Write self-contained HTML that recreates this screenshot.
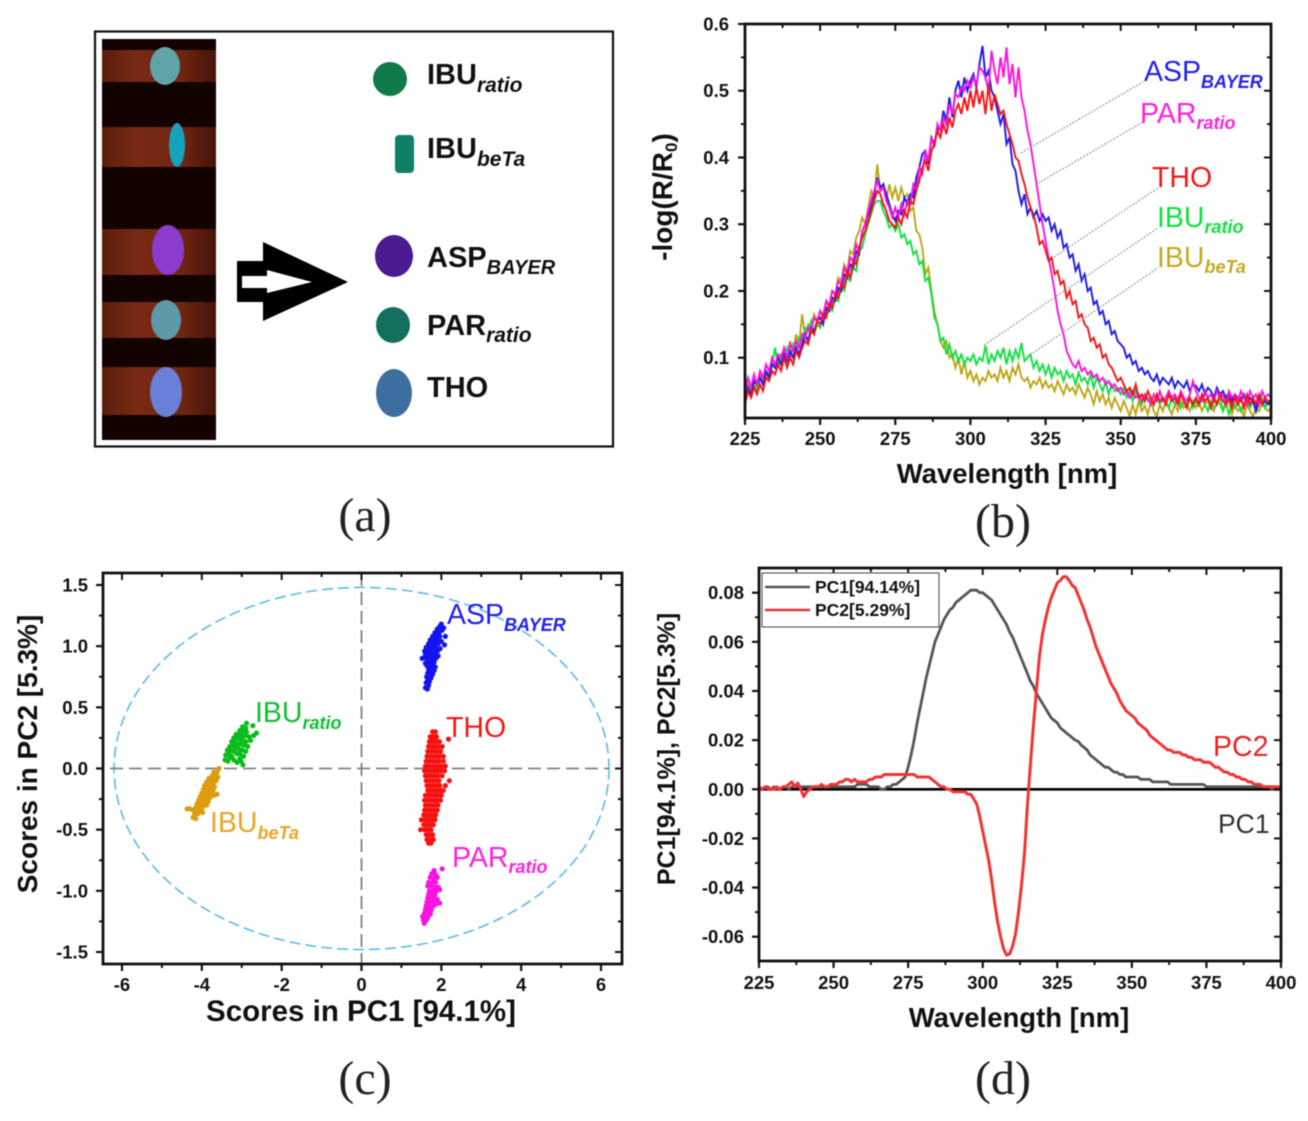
<!DOCTYPE html>
<html lang="en">
<head>
<meta charset="utf-8">
<title>Spectral imaging figure panels a-d</title>
<style>
html,body{margin:0;padding:0;background:#fff;}
svg{display:block;font-family:"Liberation Sans",sans-serif;filter:blur(0.4px);}
.serif{font-family:"Liberation Serif",serif;font-size:48px;fill:#222;text-anchor:middle;}
.al{font-size:29px;font-weight:bold;fill:#111;}
.al tspan{font-size:21px;font-style:italic;}
.cl{font-size:28.5px;}
.cl tspan{font-size:18px;font-style:italic;font-weight:bold;}
.title{font-weight:bold;fill:#111;text-anchor:middle;}
.tick{font-weight:bold;font-size:18.5px;fill:#111;}
</style>
</head>
<body>
<svg id="figure" width="1308" height="1121" viewBox="0 0 1308 1121" xmlns="http://www.w3.org/2000/svg">
<defs>
<linearGradient id="bandGrad" x1="0" x2="1" y1="0" y2="0">
<stop offset="0" stop-color="#5a1e0c"/><stop offset=".3" stop-color="#7a2a14"/><stop offset=".7" stop-color="#702512"/><stop offset="1" stop-color="#451407"/>
</linearGradient>
</defs>
<rect width="1308" height="1121" fill="#fff"/>

<g>
<rect x="95" y="31.5" width="518" height="415" fill="#fff" stroke="#111" stroke-width="2.2"/>
<g>
<rect x="102" y="39" width="114" height="401" fill="#120200"/>
<rect x="102" y="50" width="114" height="32" fill="url(#bandGrad)"/>
<rect x="102" y="127" width="114" height="40" fill="url(#bandGrad)"/>
<rect x="102" y="229" width="114" height="46" fill="url(#bandGrad)"/>
<rect x="102" y="302" width="114" height="36" fill="url(#bandGrad)"/>
<rect x="102" y="367" width="114" height="48" fill="url(#bandGrad)"/>
<ellipse cx="165" cy="66" rx="15" ry="19" fill="#5fa5a8"/>
<ellipse cx="177" cy="145" rx="8" ry="22" fill="#16a2ba"/>
<ellipse cx="168" cy="250" rx="16" ry="25" fill="#8a3ccc"/>
<ellipse cx="166" cy="320" rx="15" ry="20" fill="#5f96a8"/>
<ellipse cx="166" cy="392" rx="16" ry="25" fill="#6a80d8"/>
</g>
<polygon points="237,261 263,261 263,242 348,282 263,321 263,302 237,302" fill="#000"/>
<polygon points="242,276 267,276 267,270 312,282 267,293 267,288 242,288" fill="#fff"/>
<ellipse cx="390" cy="79" rx="17" ry="17" fill="#117a4a"/>
<rect x="395" y="135" width="19" height="38" rx="4" fill="#0f8068"/>
<ellipse cx="394" cy="256" rx="19" ry="21" fill="#4a1a8e"/>
<ellipse cx="393" cy="325" rx="17" ry="18" fill="#14705e"/>
<ellipse cx="394" cy="393" rx="18" ry="24" fill="#3e6ea0"/>
<text class="al" x="427" y="84">IBU<tspan dy="8">ratio</tspan></text>
<text class="al" x="427" y="158">IBU<tspan dy="8">beTa</tspan></text>
<text class="al" x="427" y="267">ASP<tspan dy="7" style="font-size:20px">BAYER</tspan></text>
<text class="al" x="427" y="335">PAR<tspan dy="7">ratio</tspan></text>
<text class="al" x="427" y="397">THO</text>
</g>
<text class="serif" x="365" y="531">(a)</text>

<g id="chart-b"></g>
<g>
<line x1="1021" y1="153" x2="1143" y2="82" stroke="#999" stroke-width="1.2" stroke-dasharray="2 1.5"/>
<line x1="1035" y1="185" x2="1143" y2="122" stroke="#999" stroke-width="1.2" stroke-dasharray="2 1.5"/>
<line x1="1054" y1="257" x2="1158" y2="188" stroke="#999" stroke-width="1.2" stroke-dasharray="2 1.5"/>
<line x1="984" y1="345" x2="1158" y2="228" stroke="#999" stroke-width="1.2" stroke-dasharray="2 1.5"/>
<line x1="1027" y1="357" x2="1158" y2="268" stroke="#999" stroke-width="1.2" stroke-dasharray="2 1.5"/>
<text class="cl" x="1144" y="81" fill="#2222ee">ASP<tspan dy="7" style="font-size:18px;font-weight:bold">BAYER</tspan></text>
<text class="cl" x="1140" y="123" fill="#ff22dd">PAR<tspan dy="6">ratio</tspan></text>
<text class="cl" x="1152" y="187" fill="#f01818">THO</text>
<text class="cl" x="1157" y="227" fill="#10e040">IBU<tspan dy="6">ratio</tspan></text>
<text class="cl" x="1157" y="267" fill="#c4aa20">IBU<tspan dy="6">beTa</tspan></text>
<text class="title" x="1007" y="483" font-size="27.5">Wavelength [nm]</text>
<text class="title" font-size="28" transform="translate(672,197) rotate(-90)">-log(R/R<tspan dy="5" font-size="17">0</tspan><tspan dy="-5">)</tspan></text>
</g>
<text class="serif" x="1003" y="537">(b)</text>

<g id="chart-c"></g>
<g>
<text class="cl" x="447" y="624" fill="#2222ee">ASP<tspan dy="7" style="font-size:18px;font-weight:bold">BAYER</tspan></text>
<text class="cl" x="255" y="722" fill="#10c030">IBU<tspan dy="7">ratio</tspan></text>
<text class="cl" x="446" y="737" fill="#f01818">THO</text>
<text class="cl" x="210" y="832" fill="#e8a525">IBU<tspan dy="7">beTa</tspan></text>
<text class="cl" x="452" y="867" fill="#ff22dd">PAR<tspan dy="6">ratio</tspan></text>
<text class="title" x="361" y="1021" font-size="29.5">Scores in PC1 [94.1%]</text>
<text class="title" font-size="28" transform="translate(37,754) rotate(-90)">Scores in PC2 [5.3%]</text>
</g>
<text class="serif" x="365" y="1094">(c)</text>

<g id="chart-d"></g>
<g>
<g>
<rect x="762" y="573" width="177" height="54" fill="#fff" stroke="#444" stroke-width="1"/>
<line x1="765" y1="587" x2="810" y2="587" stroke="#555" stroke-width="2.6"/>
<line x1="765" y1="610" x2="810" y2="610" stroke="#f03030" stroke-width="2.6"/>
<text x="815" y="593" font-size="17.5" font-weight="bold" fill="#111">PC1[94.14%]</text>
<text x="815" y="616" font-size="17.5" font-weight="bold" fill="#111">PC2[5.29%]</text>
</g>
<text class="cl" x="1213" y="756" fill="#f02020">PC2</text>
<text class="cl" x="1218" y="833" font-size="27" style="font-size:26.5px" fill="#333">PC1</text>
<text class="title" x="1019" y="1027" font-size="27.5">Wavelength [nm]</text>
<text class="title" font-size="25" transform="translate(675,749) rotate(-90)">PC1[94.1%], PC2[5.3%]</text>
</g>
<text class="serif" x="1003" y="1094">(d)</text>
</svg>

<script>
/* shared wavelength categories */
const wavelengths = [225,226,227,228,229,230,231,232,233,234,235,236,237,238,239,240,241,242,243,244,245,246,247,248,249,
250,251,252,253,254,255,256,257,258,259,260,261,262,263,264,265,266,267,268,269,270,271,272,273,274,
275,276,277,278,279,280,281,282,283,284,285,286,287,288,289,290,291,292,293,294,295,296,297,298,299,
300,301,302,303,304,305,306,307,308,309,310,311,312,313,314,315,316,317,318,319,320,321,322,323,324,
325,326,327,328,329,330,331,332,333,334,335,336,337,338,339,340,341,342,343,344,345,346,347,348,349,
350,351,352,353,354,355,356,357,358,359,360,361,362,363,364,365,366,367,368,369,370,371,372,373,374,
375,376,377,378,379,380,381,382,383,384,385,386,387,388,389,390,391,392,393,394,395,396,397,398,399,400];

/* panel b: -log(R/R0) spectra */
const ibuBetaSpectrum = [.04,.06,.05,.065,.055,.075,.065,.08,.075,.095,.085,.1,.095,.115,.1,.125,.11,.135,.12,.165,.13,.15,.145,.165,.155,
.17,.165,.185,.18,.2,.195,.22,.215,.24,.23,.26,.255,.28,.29,.31,.3,.325,.35,.34,.39,.35,.36,.335,.36,.34,
.355,.335,.355,.34,.345,.32,.325,.29,.285,.265,.225,.235,.2,.17,.15,.125,.115,.125,.1,.105,.085,.1,.075,.095,.07,
.08,.065,.075,.06,.07,.065,.08,.07,.075,.065,.085,.07,.08,.065,.085,.075,.09,.07,.065,.07,.055,.065,.06,.07,.055,
.065,.055,.06,.05,.065,.055,.045,.06,.05,.055,.045,.06,.05,.04,.055,.045,.03,.05,.035,.045,.03,.04,.025,.04,.03,
.02,.035,.025,.012,.03,.015,.035,.02,.028,.015,.035,.02,.012,.03,.02,.035,.025,.015,.03,.02,.035,.025,.03,.02,.035,
.025,.035,.02,.03,.035,.025,.02,.035,.03,.02,.03,.035,.015,.03,.02,.025,.012,.03,.02,.012,.025,.02,.03,.025,.02,.025];
const ibuRatioSpectrum = [.04,.055,.045,.06,.05,.07,.06,.075,.07,.09,.115,.085,.105,.1,.115,.1,.12,.11,.13,.125,.145,.14,.155,.135,.15,
.145,.165,.16,.175,.17,.19,.185,.205,.2,.22,.215,.235,.23,.26,.265,.285,.3,.315,.33,.335,.335,.32,.31,.295,.3,
.29,.3,.28,.285,.27,.275,.255,.26,.24,.245,.215,.22,.195,.16,.15,.125,.13,.105,.12,.1,.11,.095,.105,.09,.1,
.095,.105,.09,.1,.095,.118,.09,.105,.095,.11,.1,.115,.09,.11,.095,.112,.1,.122,.095,.1,.105,.085,.095,.08,.09,
.075,.088,.07,.085,.075,.08,.065,.08,.07,.075,.06,.078,.065,.07,.06,.075,.055,.07,.06,.05,.065,.045,.06,.05,.055,
.045,.055,.04,.05,.035,.05,.04,.03,.045,.035,.04,.03,.045,.03,.04,.035,.025,.04,.03,.04,.025,.035,.03,.04,.025,
.035,.028,.04,.03,.02,.035,.025,.03,.04,.02,.035,.015,.03,.025,.035,.02,.03,.04,.025,.035,.02,.03,.04,.025,.035,.03];
const aspBayerSpectrum = [.03,.055,.045,.065,.06,.07,.06,.08,.07,.09,.085,.1,.09,.105,.095,.11,.1,.115,.105,.12,.135,.125,.145,.14,.155,
.16,.15,.175,.17,.19,.185,.205,.2,.225,.22,.24,.235,.26,.255,.29,.3,.305,.33,.345,.37,.355,.36,.345,.33,.315,
.305,.32,.315,.34,.33,.345,.34,.37,.385,.405,.41,.39,.43,.42,.445,.44,.47,.455,.49,.46,.5,.515,.49,.52,.5,
.515,.525,.505,.54,.567,.52,.53,.5,.49,.47,.45,.465,.42,.43,.39,.38,.35,.33,.345,.315,.325,.31,.32,.305,.315,
.305,.31,.29,.3,.28,.29,.265,.27,.25,.255,.23,.24,.215,.225,.2,.205,.18,.185,.165,.17,.15,.155,.135,.14,.125,
.12,.115,.1,.105,.09,.095,.08,.085,.075,.08,.07,.065,.075,.06,.07,.065,.06,.07,.055,.065,.06,.055,.065,.05,.06,
.058,.05,.06,.045,.055,.05,.04,.055,.045,.05,.04,.048,.035,.045,.04,.035,.045,.03,.04,.035,.02,.04,.03,.035,.03,.035];
const parRatioSpectrum = [.05,.07,.055,.075,.06,.08,.07,.09,.08,.1,.09,.105,.1,.115,.1,.12,.11,.125,.115,.135,.13,.145,.14,.16,.155,
.17,.16,.185,.175,.2,.195,.215,.21,.235,.225,.25,.245,.27,.26,.29,.3,.32,.335,.35,.365,.35,.355,.335,.325,.31,
.325,.31,.33,.315,.335,.33,.36,.35,.385,.375,.41,.395,.43,.415,.45,.44,.46,.45,.48,.465,.495,.49,.505,.5,.515,
.505,.52,.51,.535,.53,.52,.5,.56,.53,.51,.55,.52,.565,.51,.54,.49,.535,.49,.47,.44,.42,.39,.36,.33,.3,
.275,.25,.225,.2,.17,.15,.135,.11,.1,.09,.085,.095,.08,.085,.075,.08,.07,.075,.065,.07,.06,.065,.055,.06,.05,
.055,.045,.05,.04,.05,.04,.045,.035,.045,.04,.03,.045,.035,.05,.035,.04,.05,.04,.045,.035,.05,.04,.035,.045,.065,
.05,.04,.035,.05,.04,.045,.035,.05,.04,.045,.03,.05,.04,.045,.035,.05,.04,.03,.05,.04,.045,.03,.05,.04,.045,.04];
const thoSpectrum = [.03,.05,.04,.055,.045,.06,.05,.07,.065,.08,.075,.09,.08,.1,.085,.1,.09,.11,.1,.115,.125,.12,.14,.135,.155,
.15,.165,.16,.18,.175,.195,.19,.21,.205,.23,.22,.245,.24,.265,.28,.29,.305,.32,.335,.35,.345,.33,.32,.305,.3,
.295,.31,.3,.32,.31,.335,.33,.35,.365,.385,.395,.38,.41,.42,.44,.43,.45,.435,.46,.445,.47,.48,.465,.49,.47,
.5,.475,.505,.48,.5,.465,.51,.47,.495,.48,.465,.47,.45,.435,.42,.4,.395,.375,.36,.34,.325,.315,.295,.27,.275,
.26,.245,.25,.225,.23,.21,.215,.19,.2,.18,.185,.16,.165,.15,.145,.125,.13,.115,.12,.1,.105,.09,.085,.075,.065,
.07,.06,.05,.055,.045,.06,.04,.045,.035,.05,.04,.03,.045,.035,.04,.03,.045,.035,.04,.03,.045,.035,.025,.04,.03,
.04,.03,.045,.035,.04,.025,.04,.03,.045,.035,.03,.04,.025,.04,.03,.04,.025,.045,.03,.04,.03,.045,.03,.04,.035,.035];
const spectrumXTicks = [225,250,275,300,325,350,375,400];
const spectrumXMinor = [237.5,262.5,287.5,312.5,337.5,362.5,387.5];
const spectrumYTicks = [0.1,0.2,0.3,0.4,0.5,0.6];
const spectrumYLabels = ["0.1","0.2","0.3","0.4","0.5","0.6"];
const spectrumYMinor = [0.15,0.25,0.35,0.45,0.55];

/* panel c: PCA scores, [PC1, PC2] */
const aspScores = [[1.6,.66],[1.65,.65],[1.68,.68],[1.62,.7],[1.66,.72],[1.7,.71],[1.63,.75],[1.7,.75],[1.74,.74],[1.66,.78],[1.72,.78],[1.78,.77],[1.68,.81],[1.75,.81],[1.82,.8],[1.64,.84],[1.7,.84],[1.78,.84],[1.85,.83],[1.6,.86],[1.68,.87],[1.75,.87],[1.82,.87],[1.52,.9],[1.62,.9],[1.7,.9],[1.78,.9],[1.86,.9],[1.6,.93],[1.68,.93],[1.75,.93],[1.84,.93],[1.92,.92],[1.58,.96],[1.66,.96],[1.74,.96],[1.82,.96],[1.9,.96],[1.62,.99],[1.7,.99],[1.78,.99],[1.86,.99],[1.97,.98],[1.68,1.02],[1.76,1.02],[1.84,1.02],[1.92,1.02],[2.08,1.01],[1.72,1.05],[1.8,1.05],[1.9,1.05],[2,1.04],[1.78,1.08],[1.88,1.08],[1.96,1.08],[1.84,1.11],[1.94,1.11],[2.1,1.08],[1.9,1.14],[2.02,1.13],[1.96,1.16],[2.06,1.15],[2,1.18]];
const thoScores = [[1.78,.3],[1.85,.3],[1.72,.26],[1.8,.26],[1.88,.26],[1.75,.24],[1.85,.24],[2.18,.24],[1.7,.22],[1.78,.22],[1.86,.22],[1.95,.22],[1.68,.18],[1.76,.18],[1.84,.18],[1.92,.18],[2.02,.18],[1.66,.14],[1.74,.14],[1.82,.14],[1.9,.14],[1.98,.14],[1.64,.1],[1.72,.1],[1.8,.1],[1.88,.1],[1.96,.1],[2.05,.1],[1.62,.06],[1.7,.06],[1.78,.06],[1.86,.06],[1.94,.06],[2.05,.06],[1.6,.02],[1.68,.02],[1.76,.02],[1.84,.02],[1.92,.02],[2,.02],[2.1,.02],[1.58,-.02],[1.66,-.02],[1.74,-.02],[1.82,-.02],[1.9,-.02],[1.98,-.02],[2.08,-.02],[1.6,-.06],[1.68,-.06],[1.76,-.06],[1.84,-.06],[1.92,-.06],[2.02,-.06],[1.62,-.1],[1.7,-.1],[1.78,-.1],[1.86,-.1],[1.94,-.1],[2.2,-.1],[1.64,-.14],[1.72,-.14],[1.8,-.14],[1.88,-.14],[1.96,-.14],[2.1,-.14],[1.66,-.18],[1.74,-.18],[1.82,-.18],[1.9,-.18],[1.98,-.18],[2.05,-.18],[1.6,-.22],[1.68,-.22],[1.76,-.22],[1.84,-.22],[1.92,-.22],[2,-.22],[1.58,-.26],[1.66,-.26],[1.74,-.26],[1.82,-.26],[1.9,-.26],[1.98,-.26],[1.6,-.3],[1.68,-.3],[1.76,-.3],[1.84,-.3],[1.92,-.3],[1.58,-.34],[1.66,-.34],[1.74,-.34],[1.82,-.34],[1.9,-.34],[1.56,-.38],[1.64,-.38],[1.72,-.38],[1.8,-.38],[1.86,-.38],[1.5,-.42],[1.6,-.42],[1.68,-.42],[1.76,-.42],[1.84,-.42],[1.56,-.46],[1.64,-.46],[1.72,-.46],[1.8,-.46],[1.48,-.5],[1.58,-.5],[1.66,-.5],[1.74,-.5],[1.62,-.54],[1.7,-.54],[1.78,-.54],[1.64,-.58],[1.72,-.58],[1.8,-.58],[1.68,-.61],[1.74,-.61]];
const parScores = [[1.82,-.835],[2.02,-.82],[1.76,-.86],[1.86,-.87],[1.72,-.89],[1.82,-.9],[1.9,-.89],[1.68,-.93],[1.78,-.93],[1.86,-.93],[1.66,-.96],[1.74,-.96],[1.84,-.97],[1.92,-.97],[1.7,-1],[1.78,-1],[1.88,-1],[1.96,-.99],[1.68,-1.03],[1.76,-1.03],[1.84,-1.03],[1.66,-1.06],[1.74,-1.06],[1.82,-1.06],[1.9,-1.07],[1.96,-1.1],[1.64,-1.09],[1.72,-1.09],[1.8,-1.09],[1.86,-1.11],[1.62,-1.12],[1.7,-1.12],[1.78,-1.13],[1.6,-1.15],[1.68,-1.15],[1.74,-1.16],[1.58,-1.18],[1.65,-1.18],[1.72,-1.19],[1.53,-1.21],[1.6,-1.21],[1.66,-1.22],[1.55,-1.24],[1.62,-1.24],[1.57,-1.265]];
const ibuRatioScores = [[-3.42,.07],[-3.35,.06],[-3.3,.09],[-3.4,.11],[-3.32,.13],[-3.25,.1],[-3.2,.07],[-3.12,.05],[-3.05,.08],[-2.97,.03],[-3.02,.06],[-3.36,.15],[-3.28,.16],[-3.2,.14],[-3.12,.12],[-3.05,.12],[-2.95,.1],[-3.3,.18],[-3.22,.19],[-3.15,.17],[-3.08,.16],[-3,.15],[-2.9,.14],[-3.25,.22],[-3.18,.22],[-3.1,.2],[-3.02,.2],[-2.95,.19],[-2.85,.18],[-3.2,.25],[-3.12,.25],[-3.05,.24],[-2.98,.24],[-2.9,.22],[-2.78,.23],[-3.14,.28],[-3.06,.28],[-3,.27],[-2.92,.27],[-2.82,.26],[-2.7,.27],[-2.63,.29],[-3.05,.31],[-2.96,.31],[-2.88,.3],[-2.98,.34],[-2.9,.33],[-2.88,.37],[-2.72,.35]];
const ibuBetaScores = [[-3.57,0],[-3.62,-.03],[-3.7,-.03],[-3.66,-.06],[-3.74,-.06],[-3.6,-.07],[-3.82,-.08],[-3.72,-.09],[-3.64,-.1],[-3.88,-.11],[-3.8,-.11],[-3.72,-.12],[-3.93,-.14],[-3.85,-.14],[-3.77,-.14],[-3.68,-.15],[-3.96,-.17],[-3.88,-.17],[-3.8,-.17],[-3.72,-.18],[-4,-.2],[-3.92,-.2],[-3.84,-.2],[-3.76,-.2],[-3.62,-.21],[-4.04,-.23],[-3.96,-.23],[-3.88,-.23],[-3.8,-.24],[-3.7,-.22],[-4.08,-.26],[-4,-.26],[-3.92,-.26],[-3.84,-.27],[-4.12,-.29],[-4.04,-.29],[-3.96,-.29],[-3.88,-.3],[-4.15,-.32],[-4.07,-.32],[-3.99,-.32],[-4.37,-.33],[-4.3,-.33],[-4.22,-.34],[-4.14,-.35],[-4.06,-.35],[-3.98,-.36],[-4.18,-.37],[-4.1,-.37],[-4.22,-.4],[-4.15,-.41]];
const scoreXTicks = [-6,-4,-2,0,2,4,6];
const scoreXMinor = [-5,-3,-1,1,3,5];
const scoreYTicks = [-1.5,-1,-0.5,0,0.5,1,1.5];
const scoreYLabels = ["-1.5","-1.0","-0.5","0.0","0.5","1.0","1.5"];
const scoreYMinor = [-1.25,-0.75,-0.25,0.25,0.75,1.25];
const confidenceRadii = [6.2,1.48];

/* panel d: PCA loadings */
const pc1Loading = [0,0,.001,0,0,.001,0,0,.001,.001,0,.001,.001,.001,.001,.001,.001,.001,.001,.001,.001,.001,.001,.001,.001,
.001,.001,.001,.001,.001,.001,.001,.001,.002,.002,.002,.002,.001,.001,.001,.001,0,0,.001,.001,.002,.002,.003,.004,.005,
.009,.014,.02,.027,.033,.039,.045,.05,.055,.06,.063,.066,.069,.071,.073,.074,.076,.077,.078,.079,.08,.081,.081,.081,.08,
.08,.079,.078,.077,.075,.073,.071,.069,.067,.064,.062,.059,.056,.053,.05,.047,.044,.042,.039,.037,.035,.033,.031,.029,.028,
.027,.025,.024,.023,.022,.021,.02,.0195,.018,.017,.016,.014,.013,.012,.011,.01,.009,.009,.008,.007,.007,.006,.006,.005,.005,
.005,.005,.005,.004,.004,.004,.004,.003,.003,.003,.003,.003,.003,.002,.002,.002,.002,.002,.002,.002,.002,.002,.002,.002,.002,
.001,.001,.001,.001,.001,.001,.001,.001,.001,.001,.001,.001,.001,.001,.001,.001,.001,.001,.001,.001,.001,.001,0,0,0,0];
const pc2Loading = [.001,0,.001,.001,0,0,.001,0,.001,.001,.002,.003,.001,.0025,0,-.003,-.001,0,.001,.001,.001,.002,.001,.001,.002,
.002,.002,.003,.003,.004,.004,.003,.004,.003,.003,.003,.003,.004,.004,.005,.005,.005,.006,.006,.006,.006,.006,.006,.006,.006,
.006,.006,.006,.005,.005,.005,.005,.005,.004,.003,.002,.001,.001,0,0,-.001,-.001,-.001,-.001,-.001,-.002,-.002,-.004,-.006,-.011,
-.017,-.023,-.029,-.037,-.046,-.054,-.06,-.065,-.0675,-.067,-.064,-.059,-.05,-.039,-.026,-.006,.01,.026,.04,.054,.063,.069,.074,.078,.081,
.084,.085,.0865,.0865,.085,.083,.082,.079,.076,.073,.069,.066,.062,.058,.055,.052,.049,.046,.043,.041,.039,.036,.034,.032,.031,
.03,.029,.027,.026,.025,.024,.022,.021,.02,.019,.018,.017,.016,.016,.015,.015,.015,.014,.014,.013,.013,.012,.012,.012,.011,
.011,.011,.01,.009,.009,.008,.007,.007,.006,.006,.005,.005,.004,.004,.003,.003,.002,.002,.002,.001,.001,.001,.001,.001,.001,.0005];
const loadingYTicks = [-0.06,-0.04,-0.02,0,0.02,0.04,0.06,0.08];
const loadingYLabels = ["-0.06","-0.04","-0.02","0.00","0.02","0.04","0.06","0.08"];
const loadingYMinor = [-0.05,-0.03,-0.01,0.01,0.03,0.05,0.07];

const NS = 'http://www.w3.org/2000/svg';
function mk(parent, tag, attrs, text) {
  const el = document.createElementNS(NS, tag);
  for (const k in attrs) el.setAttribute(k, attrs[k]);
  if (text !== undefined) el.textContent = text;
  parent.appendChild(el);
  return el;
}
function linear(d0, d1, r0, r1) {
  return v => r0 + (v - d0) * (r1 - r0) / (d1 - d0);
}
function drawAxes(g, box, sx, sy, xTicks, xLabels, xMinor, yTicks, yLabels, yMinor, labelGapX, labelBaseY) {
  const sw = 2.8, major = 7, minor = 4;
  for (let i = 0; i < xTicks.length; i++) {
    const x = sx(xTicks[i]);
    const t = mk(g, 'line', {x1: x, x2: x, y1: box.b, y2: box.b + major, stroke: '#111', 'stroke-width': 2.2});
    
    
    const m = mk(g, 'line', {x1: x, x2: x, y1: box.t, y2: box.t + major, stroke: '#111', 'stroke-width': 2});
    
    
    const l = mk(g, 'text', {x: x, y: labelBaseY, 'text-anchor': 'middle', class: 'tick'}, xLabels[i]);
    
    
  }
  for (const v of xMinor) {
    const x = sx(v);
    const t = mk(g, 'line', {x1: x, x2: x, y1: box.b, y2: box.b + minor, stroke: '#111', 'stroke-width': 2});
    
    
    const m = mk(g, 'line', {x1: x, x2: x, y1: box.t, y2: box.t + minor, stroke: '#111', 'stroke-width': 2});
    
    
  }
  for (let i = 0; i < yTicks.length; i++) {
    const y = sy(yTicks[i]);
    const t = mk(g, 'line', {x1: box.l - major, x2: box.l, y1: y, y2: y, stroke: '#111', 'stroke-width': 2.2});
    
    
    const m = mk(g, 'line', {x1: box.r - major, x2: box.r, y1: y, y2: y, stroke: '#111', 'stroke-width': 2});
    
    
    const l = mk(g, 'text', {x: box.l - labelGapX, y: y + 6.5, 'text-anchor': 'end', class: 'tick'}, yLabels[i]);
    
    
  }
  for (const v of yMinor) {
    const y = sy(v);
    const t = mk(g, 'line', {x1: box.l - minor, x2: box.l, y1: y, y2: y, stroke: '#111', 'stroke-width': 2});
    
    
    const m = mk(g, 'line', {x1: box.r - minor, x2: box.r, y1: y, y2: y, stroke: '#111', 'stroke-width': 2});
    
    
  }
  const f = mk(g, 'rect', {x: box.l, y: box.t, width: box.r - box.l, height: box.b - box.t, fill: 'none', stroke: '#111', 'stroke-width': sw});
  
  
}
function linePath(values, sx, sy) {
  return values.map((v, i) => (i ? 'L' : 'M') + sx(wavelengths[i]).toFixed(1) + ' ' + sy(v).toFixed(1)).join('');
}

/* ---------- panel b ---------- */
(function () {
  const g = document.getElementById('chart-b');
  const box = {l: 745, r: 1271, t: 24, b: 418};
  const sx = linear(225, 400, 745, 1271);
  const sy = linear(0.1, 0.6, 357.7, 24);
  const s1 = mk(g, 'path', {d: linePath(ibuBetaSpectrum, sx, sy), fill: 'none', stroke: '#bfa516', 'stroke-width': 1.9});
  
  
  const s2 = mk(g, 'path', {d: linePath(ibuRatioSpectrum, sx, sy), fill: 'none', stroke: '#12e040', 'stroke-width': 1.9});
  
  
  const s3 = mk(g, 'path', {d: linePath(aspBayerSpectrum, sx, sy), fill: 'none', stroke: '#1a1aee', 'stroke-width': 1.9});
  
  
  const s4 = mk(g, 'path', {d: linePath(parRatioSpectrum, sx, sy), fill: 'none', stroke: '#fa14e0', 'stroke-width': 1.9});
  
  
  const s5 = mk(g, 'path', {d: linePath(thoSpectrum, sx, sy), fill: 'none', stroke: '#f51414', 'stroke-width': 1.9});
  
  
  drawAxes(g, box, sx, sy, spectrumXTicks, spectrumXTicks.map(String), spectrumXMinor, spectrumYTicks, spectrumYLabels, spectrumYMinor, 16, 445);
})();

/* ---------- panel c ---------- */
(function () {
  const g = document.getElementById('chart-c');
  const box = {l: 103, r: 622, t: 573, b: 964};
  const sx = linear(-6, 6, 122, 601);
  const sy = linear(-1.5, 1.5, 952, 585);
  const e = mk(g, 'ellipse', {cx: sx(0), cy: sy(0), rx: sx(confidenceRadii[0]) - sx(0), ry: sy(0) - sy(confidenceRadii[1]), fill: 'none', stroke: '#5cbbe2', 'stroke-width': 1.6, 'stroke-dasharray': '11 5'});
  
  
  const h = mk(g, 'line', {x1: sx(-6.3), x2: sx(6.2), y1: sy(0), y2: sy(0), stroke: '#808080', 'stroke-width': 1.8, 'stroke-dasharray': '13 6'});
  
  
  const v = mk(g, 'line', {x1: sx(0), x2: sx(0), y1: box.t, y2: box.b, stroke: '#808080', 'stroke-width': 1.8, 'stroke-dasharray': '13 6'});
  
  
  function cluster(points, color, name) {
    const c = mk(g, 'g', {fill: color});
    
    
    for (const p of points) {
      const d = mk(c, 'circle', {cx: sx(p[0]).toFixed(1), cy: sy(p[1]).toFixed(1), r: 2.6});
      
      
    }
  }
  cluster(aspScores, '#1414f0', 'cluster-asp-bayer');
  cluster(thoScores, '#f81010', 'cluster-tho');
  cluster(parScores, '#f814e0', 'cluster-par-ratio');
  cluster(ibuRatioScores, '#0cbc1c', 'cluster-ibu-ratio');
  cluster(ibuBetaScores, '#dc9c10', 'cluster-ibu-beta');
  drawAxes(g, box, sx, sy, scoreXTicks, scoreXTicks.map(String), scoreXMinor, scoreYTicks, scoreYLabels, scoreYMinor, 15, 991);
})();

/* ---------- panel d ---------- */
(function () {
  const g = document.getElementById('chart-d');
  const box = {l: 759, r: 1281, t: 568, b: 961};
  const sx = linear(225, 400, 759, 1281);
  const sy = linear(-0.06, 0.08, 936.7, 592.7);
  const z = mk(g, 'line', {x1: box.l, x2: box.r, y1: sy(0), y2: sy(0), stroke: '#000', 'stroke-width': 2.6});
  
  
  const p1 = mk(g, 'path', {d: linePath(pc1Loading, sx, sy), fill: 'none', stroke: '#555', 'stroke-width': 2.8, 'stroke-linejoin': 'round'});
  
  
  const p2 = mk(g, 'path', {d: linePath(pc2Loading, sx, sy), fill: 'none', stroke: '#f03434', 'stroke-width': 3, 'stroke-linejoin': 'round'});
  
  
  drawAxes(g, box, sx, sy, spectrumXTicks, spectrumXTicks.map(String), spectrumXMinor, loadingYTicks, loadingYLabels, loadingYMinor, 15, 989);
})();
</script>
</body>
</html>
